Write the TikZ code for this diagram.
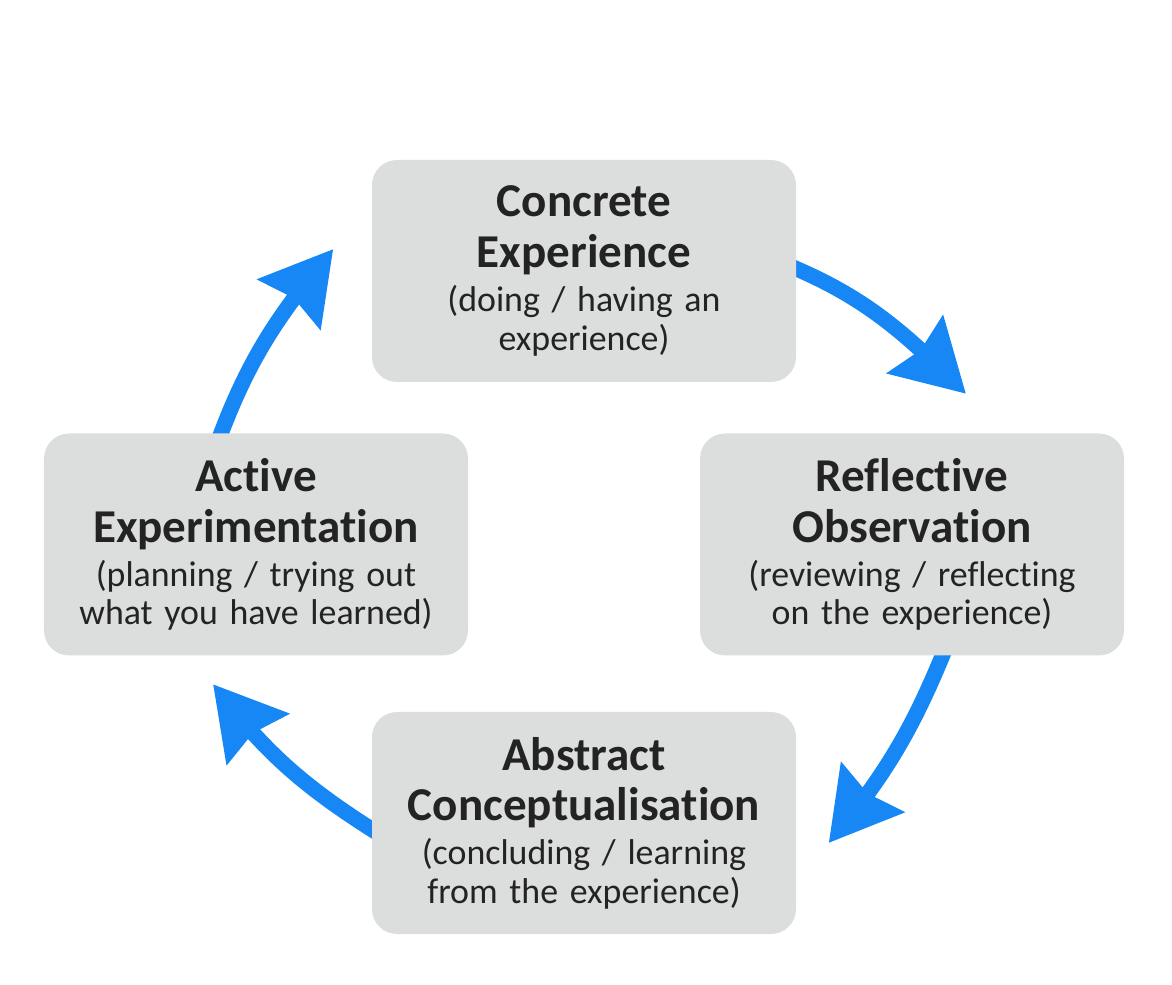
\documentclass[tikz,border=0pt]{standalone}
\usepackage{fontspec}
\setmainfont{Carlito}[Ligatures=NoCommon]
\usetikzlibrary{arrows.meta,bending,backgrounds}
\definecolor{boxgray}{RGB}{220,221,221}
\definecolor{cycleblue}{RGB}{23,135,245}
\definecolor{textdark}{RGB}{35,35,35}
\newcommand{\stagetitle}[2]{{\fontsize{13.4}{14.4}\selectfont\bfseries #1\\#2\par}}
\newcommand{\stagenote}[2]{{\fontsize{10.2}{11}\selectfont\vspace{1.5pt}#1\\#2\par}}

\begin{document}
\begin{tikzpicture}[x=1cm,y=1cm,
  stagebox/.style={fill=boxgray, rounded corners=0.25cm, minimum width=4.24cm,
    minimum height=2.22cm, text width=4.1cm, align=center, inner sep=0pt, text=textdark},
  cyclearrow/.style={cycleblue, line width=0.155cm,
    -{Stealth[length=0.7cm,width=0.78cm,inset=0.07cm,flex]}}]
\useasboundingbox (0,0) rectangle (11.72,-9.85);
% the four stages
\node[stagebox] (ce) at (5.84,-2.71) {\stagetitle{Concrete}{Experience}\stagenote{(doing / having an}{experience)}};
\node[stagebox] (ro) at (9.12,-5.445) {\stagetitle{Reflective}{Observation}\stagenote{(reviewing / reflecting}{on the experience)}};
\node[stagebox] (ac) at (5.84,-8.23) {\stagetitle{Abstract}{Conceptualisation}\stagenote{(concluding / learning}{from the experience)}};
\node[stagebox] (ae) at (2.56,-5.445) {\stagetitle{Active}{Experimentation}\stagenote{(planning / trying out}{what you have learned)}};
% arrows of the cycle
\begin{scope}[on background layer]
\coordinate (tip1) at ([xshift=0.54cm,yshift=0.39cm]ro.north);
\coordinate (tip2) at ([xshift=0.32cm,yshift=-0.20cm]ac.east);
\coordinate (tip3) at ([xshift=-0.43cm,yshift=-0.28cm]ae.south);
\coordinate (tip4) at ([xshift=-0.38cm,yshift=0.22cm]ce.west);
\draw[cyclearrow] ([xshift=-4pt,yshift=0.08cm]ce.east) to[out=-22,in=135] (tip1);
\draw[cyclearrow] ([xshift=0.36cm,yshift=4pt]ro.south) to[out=-112,in=50] (tip2);
\draw[cyclearrow] ([xshift=4pt,yshift=-0.15cm]ac.west) to[out=148,in=-53] (tip3);
\draw[cyclearrow] ([xshift=-0.40cm,yshift=-4pt]ae.north) to[out=70,in=230] (tip4);
\end{scope}
\end{tikzpicture}
\end{document}
